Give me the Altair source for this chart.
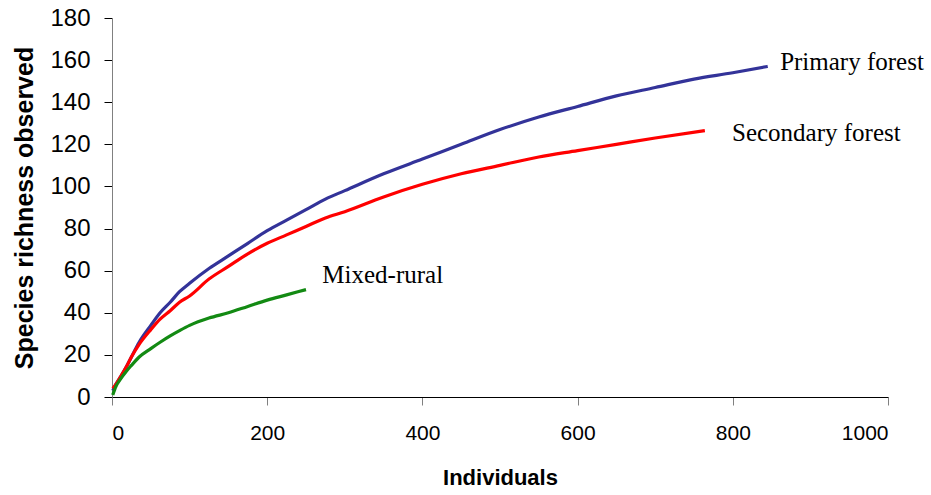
import altair as alt
import pandas as pd

primary_x = [1, 5, 10, 18, 25, 35, 50, 62, 75, 87, 100, 125, 150, 175, 200, 225, 250, 275, 300, 350, 400, 450, 500, 550, 600, 650, 700, 750, 800, 845]
primary_y = [3, 6, 9, 14, 19, 26, 34, 40, 45, 50, 54, 61, 67, 73, 79, 84, 89, 94, 98, 106, 113, 120, 127, 133, 138, 143, 147, 151, 154, 157]

secondary_x = [1, 5, 10, 18, 25, 35, 50, 62, 75, 87, 100, 125, 150, 175, 200, 225, 250, 275, 300, 350, 400, 450, 500, 550, 600, 650, 700, 764]
secondary_y = [4, 6, 9, 14, 19, 25, 32, 37, 41, 45, 48, 56, 62, 68, 73, 77, 81, 85, 88, 95, 101, 106, 110, 114, 117, 120, 123, 126.5]

mixed_x = [1, 5, 10, 18, 25, 35, 50, 62, 75, 87, 100, 125, 150, 175, 200, 225, 250]
mixed_y = [1, 5, 8, 12, 15, 19, 23, 26, 29, 31.5, 34, 37.5, 40, 43, 46, 48.5, 51]

series = ["Primary forest", "Secondary forest", "Mixed-rural"]
colors = ["#333399", "#FF0000", "#138A13"]

label_x = [861, 799, 271]
label_y = [159, 125.5, 58]

rows = []
for name, xs, ys in zip(series, [primary_x, secondary_x, mixed_x], [primary_y, secondary_y, mixed_y]):
    for i, (a, b) in enumerate(zip(xs, ys)):
        rows.append({"series": name, "ind": a, "rich": b, "order": i})
df = pd.DataFrame(rows)
labels = pd.DataFrame({"series": series, "ind": label_x, "rich": label_y})

xscale = alt.Scale(domain=[0, 1000], nice=False)
yscale = alt.Scale(domain=[0, 180], nice=False)
cscale = alt.Scale(domain=series, range=colors)

lines = alt.Chart(df).mark_line(strokeWidth=3.2, interpolate="monotone").encode(
    x=alt.X("ind:Q", scale=xscale, title="Individuals",
            axis=alt.Axis(values=[0, 200, 400, 600, 800, 1000], format="d", grid=False,
                          domainColor="#000000", tickColor="#808080", tickSize=8,
                          labelPadding=17, labelFontSize=21, labelFont="Liberation Sans",
                          labelColor="#000000", titleFont="Liberation Sans", titleFontSize=22,
                          titleFontWeight="bold", titleColor="#000000", titlePadding=24)),
    y=alt.Y("rich:Q", scale=yscale, title="Species richness observed",
            axis=alt.Axis(values=list(range(0, 181, 20)), grid=False,
                          domainColor="#808080", tickColor="#000000", tickSize=8,
                          labelPadding=14, labelFontSize=24, labelFont="Liberation Sans",
                          labelColor="#000000", titleFont="Liberation Sans", titleFontSize=25,
                          titleFontWeight="bold", titleColor="#000000", titlePadding=12)),
    color=alt.Color("series:N", scale=cscale, legend=None),
    order="order:Q",
)

text = alt.Chart(labels).mark_text(align="left", baseline="middle", font="Liberation Serif",
                                   fontSize=25, color="#000000").encode(
    x=alt.X("ind:Q", scale=xscale),
    y=alt.Y("rich:Q", scale=yscale),
    text="series:N",
)

chart = alt.layer(lines, text).properties(
    width=776, height=379,
    autosize=alt.AutoSizeParams(type="none"),
    padding={"left": 112, "top": 18, "right": 43, "bottom": 98},
    background="white",
).configure_view(stroke=None)

chart.save("out.html", embed_options={"renderer": "svg", "actions": False})
